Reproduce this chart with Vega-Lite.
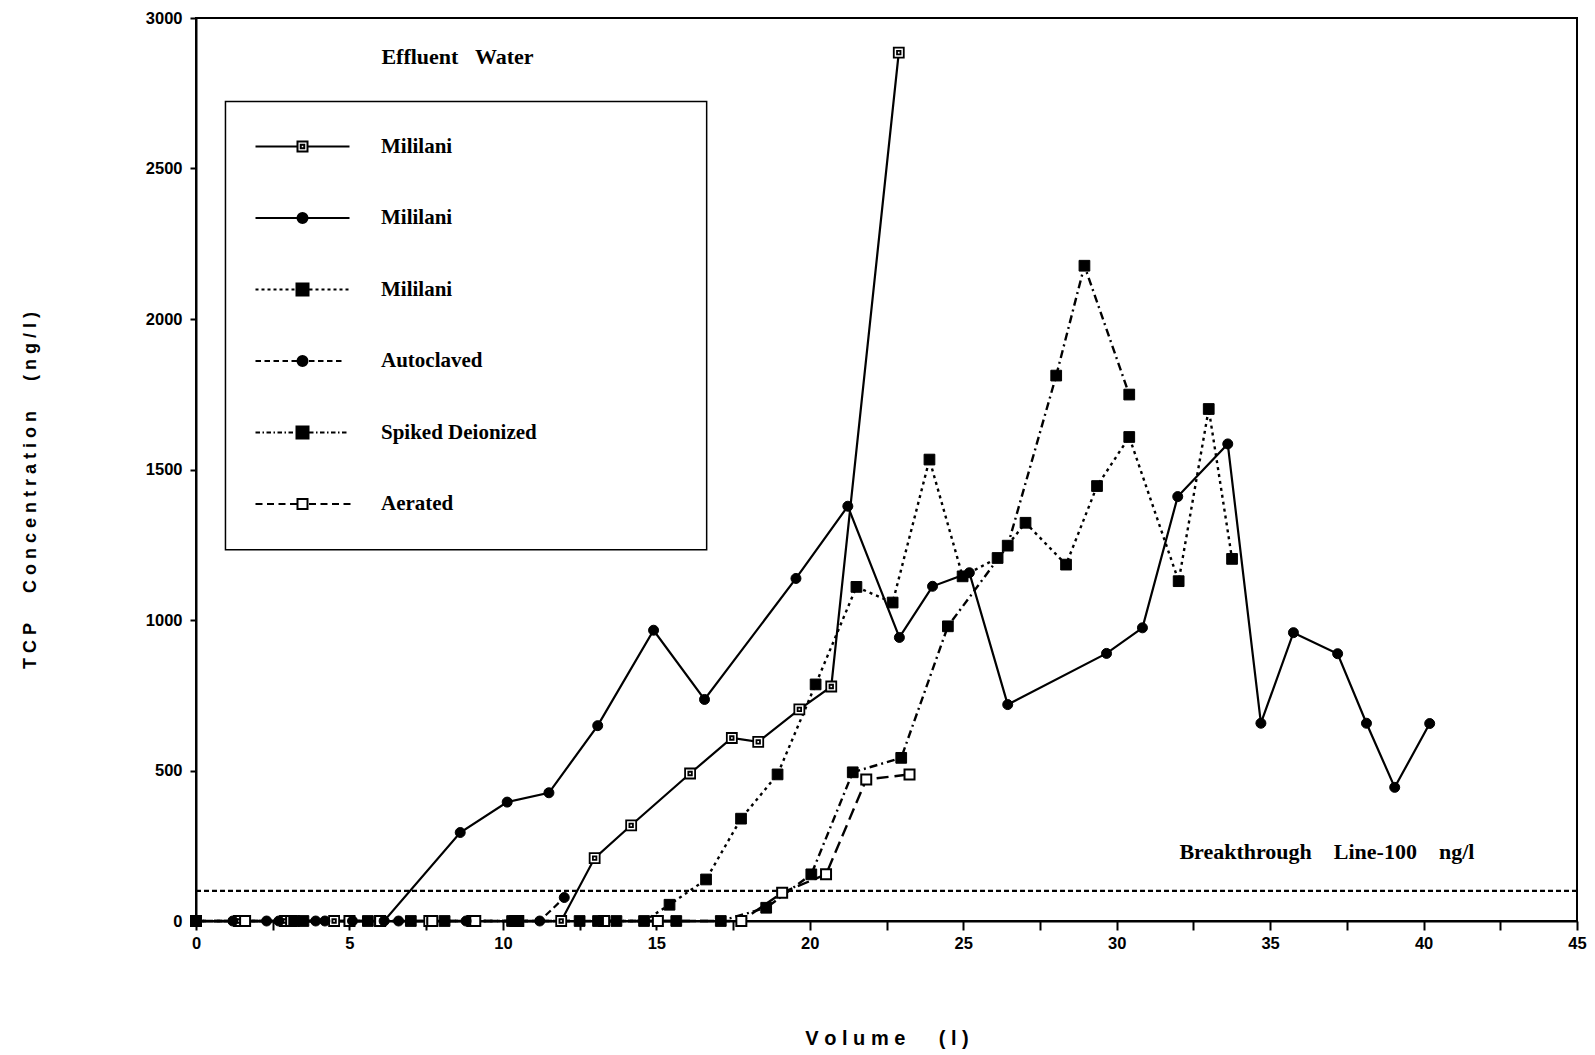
{
  "$schema": "https://vega.github.io/schema/vega-lite/v6.json",
  "width": 1381,
  "height": 903,
  "autosize": "none",
  "padding": {"left": 196, "top": 18, "right": 18, "bottom": 134},
  "background": "white",
  "config": {
    "view": {"stroke": "black", "strokeWidth": 2},
    "axis": {
      "domainColor": "black", "domainWidth": 2, "tickColor": "black", "tickWidth": 2,
      "labelColor": "black", "titleColor": "black", "grid": false,
      "labelFont": "Liberation Sans, sans-serif", "labelFontWeight": "bold", "labelFontSize": 16.5,
      "titleFont": "Liberation Sans, sans-serif", "titleFontWeight": "bold", "titleFontSize": 18
    },
    "legend": {
      "orient": "none", "legendX": 96, "legendY": 118, "padding": 0,
      "symbolSize": 100, "symbolStrokeWidth": 2, "symbolOffset": 0, "labelOffset": 68, "rowPadding": 49.5,
      "labelFont": "Liberation Serif, serif", "labelFontWeight": "bold", "labelFontSize": 21, "labelColor": "black",
      "labelLimit": 400
    }
  },
  "datasets": {
    "curves": [
      {"s": "m1", "v": 0, "c": 0}, {"s": "m1", "v": 1.4, "c": 0}, {"s": "m1", "v": 2.9, "c": 0}, {"s": "m1", "v": 4.5, "c": 0},
      {"s": "m1", "v": 6.0, "c": 0}, {"s": "m1", "v": 7.6, "c": 0}, {"s": "m1", "v": 9.0, "c": 0}, {"s": "m1", "v": 10.4, "c": 0},
      {"s": "m1", "v": 11.9, "c": 0}, {"s": "m1", "v": 12.99, "c": 209}, {"s": "m1", "v": 14.18, "c": 318}, {"s": "m1", "v": 16.1, "c": 490},
      {"s": "m1", "v": 17.46, "c": 608}, {"s": "m1", "v": 18.32, "c": 595}, {"s": "m1", "v": 19.66, "c": 703}, {"s": "m1", "v": 20.7, "c": 779},
      {"s": "m1", "v": 22.9, "c": 2885},

      {"s": "m2", "v": 0, "c": 0}, {"s": "m2", "v": 1.2, "c": 0}, {"s": "m2", "v": 2.7, "c": 0}, {"s": "m2", "v": 3.9, "c": 0},
      {"s": "m2", "v": 5.1, "c": 0}, {"s": "m2", "v": 6.13, "c": 0}, {"s": "m2", "v": 8.61, "c": 294}, {"s": "m2", "v": 10.14, "c": 395},
      {"s": "m2", "v": 11.5, "c": 426}, {"s": "m2", "v": 13.09, "c": 649}, {"s": "m2", "v": 14.91, "c": 966}, {"s": "m2", "v": 16.57, "c": 736},
      {"s": "m2", "v": 19.55, "c": 1138}, {"s": "m2", "v": 21.24, "c": 1378}, {"s": "m2", "v": 22.92, "c": 942}, {"s": "m2", "v": 24.0, "c": 1112},
      {"s": "m2", "v": 25.2, "c": 1157}, {"s": "m2", "v": 26.45, "c": 719}, {"s": "m2", "v": 29.67, "c": 889}, {"s": "m2", "v": 30.84, "c": 974},
      {"s": "m2", "v": 31.99, "c": 1410}, {"s": "m2", "v": 33.62, "c": 1585}, {"s": "m2", "v": 34.7, "c": 657}, {"s": "m2", "v": 35.76, "c": 958},
      {"s": "m2", "v": 37.2, "c": 888}, {"s": "m2", "v": 38.14, "c": 657}, {"s": "m2", "v": 39.06, "c": 444}, {"s": "m2", "v": 40.2, "c": 656},

      {"s": "m3", "v": 0, "c": 0}, {"s": "m3", "v": 3.2, "c": 0}, {"s": "m3", "v": 5.6, "c": 0}, {"s": "m3", "v": 8.1, "c": 0},
      {"s": "m3", "v": 10.3, "c": 0}, {"s": "m3", "v": 12.5, "c": 0}, {"s": "m3", "v": 13.7, "c": 0}, {"s": "m3", "v": 14.6, "c": 0},
      {"s": "m3", "v": 15.43, "c": 54}, {"s": "m3", "v": 16.62, "c": 138}, {"s": "m3", "v": 17.76, "c": 340}, {"s": "m3", "v": 18.95, "c": 487},
      {"s": "m3", "v": 20.19, "c": 786}, {"s": "m3", "v": 21.52, "c": 1110}, {"s": "m3", "v": 22.7, "c": 1058}, {"s": "m3", "v": 23.9, "c": 1533},
      {"s": "m3", "v": 24.98, "c": 1145}, {"s": "m3", "v": 26.12, "c": 1206}, {"s": "m3", "v": 27.03, "c": 1323}, {"s": "m3", "v": 28.35, "c": 1184},
      {"s": "m3", "v": 29.36, "c": 1445}, {"s": "m3", "v": 30.41, "c": 1608}, {"s": "m3", "v": 32.02, "c": 1129}, {"s": "m3", "v": 33.0, "c": 1701},
      {"s": "m3", "v": 33.76, "c": 1203},

      {"s": "au", "v": 0, "c": 0}, {"s": "au", "v": 2.3, "c": 0}, {"s": "au", "v": 4.2, "c": 0}, {"s": "au", "v": 6.6, "c": 0},
      {"s": "au", "v": 8.8, "c": 0}, {"s": "au", "v": 11.2, "c": 0}, {"s": "au", "v": 12.0, "c": 78},

      {"s": "sd", "v": 0, "c": 0}, {"s": "sd", "v": 3.5, "c": 0}, {"s": "sd", "v": 7.0, "c": 0}, {"s": "sd", "v": 10.5, "c": 0},
      {"s": "sd", "v": 13.1, "c": 0}, {"s": "sd", "v": 15.65, "c": 0}, {"s": "sd", "v": 17.1, "c": 0}, {"s": "sd", "v": 18.58, "c": 44},
      {"s": "sd", "v": 20.05, "c": 155}, {"s": "sd", "v": 21.4, "c": 494}, {"s": "sd", "v": 22.98, "c": 542}, {"s": "sd", "v": 24.5, "c": 979},
      {"s": "sd", "v": 26.45, "c": 1247}, {"s": "sd", "v": 28.03, "c": 1812}, {"s": "sd", "v": 28.95, "c": 2177}, {"s": "sd", "v": 30.41, "c": 1749},

      {"s": "ae", "v": 0, "c": 0}, {"s": "ae", "v": 1.6, "c": 0}, {"s": "ae", "v": 3.1, "c": 0}, {"s": "ae", "v": 5.0, "c": 0},
      {"s": "ae", "v": 6.0, "c": 0}, {"s": "ae", "v": 7.7, "c": 0}, {"s": "ae", "v": 9.1, "c": 0}, {"s": "ae", "v": 10.5, "c": 0},
      {"s": "ae", "v": 13.3, "c": 0}, {"s": "ae", "v": 15.05, "c": 0}, {"s": "ae", "v": 17.77, "c": 0}, {"s": "ae", "v": 19.1, "c": 94},
      {"s": "ae", "v": 20.53, "c": 155}, {"s": "ae", "v": 21.84, "c": 470}, {"s": "ae", "v": 23.25, "c": 487}
    ]
  },
  "layer": [
    {
      "data": {"values": [{}]},
      "mark": {"type": "rect", "fill": "white", "stroke": "black", "strokeWidth": 1.5},
      "encoding": {
        "x": {"datum": 0.96, "type": "quantitative", "title": "V\u00a0o\u00a0l\u00a0u\u00a0m\u00a0e\u00a0\u00a0\u00a0\u00a0\u00a0\u00a0(\u00a0l\u00a0)",
          "scale": {"domain": [0, 45], "nice": false, "zero": false},
          "axis": {"values": [0, 2.5, 5, 7.5, 10, 12.5, 15, 17.5, 20, 22.5, 25, 27.5, 30, 32.5, 35, 37.5, 40, 42.5, 45],
            "format": "d", "labelExpr": "datum.value % 5 === 0 ? datum.label : ''", "tickSize": 9, "labelPadding": 5,
            "labelFlush": false, "labelOverlap": false, "titleY": 117, "titleBaseline": "middle", "titleFontSize": 20}},
        "x2": {"datum": 16.64},
        "y": {"datum": 1233, "type": "quantitative", "title": "T\u00a0C\u00a0P\u00a0\u00a0\u00a0\u00a0\u00a0\u00a0C\u00a0o\u00a0n\u00a0c\u00a0e\u00a0n\u00a0t\u00a0r\u00a0a\u00a0t\u00a0i\u00a0o\u00a0n\u00a0\u00a0\u00a0\u00a0\u00a0\u00a0(\u00a0n\u00a0g\u00a0/\u00a0l\u00a0)",
          "scale": {"domain": [0, 3000], "nice": false, "zero": false},
          "axis": {"values": [0, 500, 1000, 1500, 2000, 2500, 3000], "format": "d", "tickSize": 6, "labelPadding": 8,
            "labelFlush": false, "labelOverlap": false, "titleX": -166, "titleY": 472, "titleAngle": -90,
            "titleAlign": "center", "titleBaseline": "middle"}},
        "y2": {"datum": 2723}
      }
    },
    {
      "data": {"values": [{}]},
      "mark": {"type": "rule", "strokeDash": [5, 3], "strokeWidth": 2.2, "color": "black"},
      "encoding": {
        "y": {"datum": 100, "type": "quantitative", "title": "T\u00a0C\u00a0P\u00a0\u00a0\u00a0\u00a0\u00a0\u00a0C\u00a0o\u00a0n\u00a0c\u00a0e\u00a0n\u00a0t\u00a0r\u00a0a\u00a0t\u00a0i\u00a0o\u00a0n\u00a0\u00a0\u00a0\u00a0\u00a0\u00a0(\u00a0n\u00a0g\u00a0/\u00a0l\u00a0)"}
      }
    },
    {
      "data": {"name": "curves"},
      "transform": [{"filter": "datum.s === 'm1' || datum.s === 'm2'"}],
      "mark": {"type": "line", "color": "black", "strokeWidth": 2.2},
      "encoding": {
        "x": {"field": "v", "type": "quantitative", "title": "V\u00a0o\u00a0l\u00a0u\u00a0m\u00a0e\u00a0\u00a0\u00a0\u00a0\u00a0\u00a0(\u00a0l\u00a0)"},
        "y": {"field": "c", "type": "quantitative", "title": "T\u00a0C\u00a0P\u00a0\u00a0\u00a0\u00a0\u00a0\u00a0C\u00a0o\u00a0n\u00a0c\u00a0e\u00a0n\u00a0t\u00a0r\u00a0a\u00a0t\u00a0i\u00a0o\u00a0n\u00a0\u00a0\u00a0\u00a0\u00a0\u00a0(\u00a0n\u00a0g\u00a0/\u00a0l\u00a0)"},
        "detail": {"field": "s", "type": "nominal"}
      }
    },
    {
      "data": {"name": "curves"},
      "transform": [{"filter": "datum.s === 'm3'"}],
      "mark": {"type": "line", "color": "black", "strokeWidth": 2.4, "strokeDash": [3, 4]},
      "encoding": {
        "x": {"field": "v", "type": "quantitative", "title": "V\u00a0o\u00a0l\u00a0u\u00a0m\u00a0e\u00a0\u00a0\u00a0\u00a0\u00a0\u00a0(\u00a0l\u00a0)"},
        "y": {"field": "c", "type": "quantitative", "title": "T\u00a0C\u00a0P\u00a0\u00a0\u00a0\u00a0\u00a0\u00a0C\u00a0o\u00a0n\u00a0c\u00a0e\u00a0n\u00a0t\u00a0r\u00a0a\u00a0t\u00a0i\u00a0o\u00a0n\u00a0\u00a0\u00a0\u00a0\u00a0\u00a0(\u00a0n\u00a0g\u00a0/\u00a0l\u00a0)"}
      }
    },
    {
      "data": {"name": "curves"},
      "transform": [{"filter": "datum.s === 'au'"}],
      "mark": {"type": "line", "color": "black", "strokeWidth": 2.2, "strokeDash": [7, 4]},
      "encoding": {
        "x": {"field": "v", "type": "quantitative", "title": "V\u00a0o\u00a0l\u00a0u\u00a0m\u00a0e\u00a0\u00a0\u00a0\u00a0\u00a0\u00a0(\u00a0l\u00a0)"},
        "y": {"field": "c", "type": "quantitative", "title": "T\u00a0C\u00a0P\u00a0\u00a0\u00a0\u00a0\u00a0\u00a0C\u00a0o\u00a0n\u00a0c\u00a0e\u00a0n\u00a0t\u00a0r\u00a0a\u00a0t\u00a0i\u00a0o\u00a0n\u00a0\u00a0\u00a0\u00a0\u00a0\u00a0(\u00a0n\u00a0g\u00a0/\u00a0l\u00a0)"}
      }
    },
    {
      "data": {"name": "curves"},
      "transform": [{"filter": "datum.s === 'sd'"}],
      "mark": {"type": "line", "color": "black", "strokeWidth": 2.4, "strokeDash": [8, 4, 2, 4]},
      "encoding": {
        "x": {"field": "v", "type": "quantitative", "title": "V\u00a0o\u00a0l\u00a0u\u00a0m\u00a0e\u00a0\u00a0\u00a0\u00a0\u00a0\u00a0(\u00a0l\u00a0)"},
        "y": {"field": "c", "type": "quantitative", "title": "T\u00a0C\u00a0P\u00a0\u00a0\u00a0\u00a0\u00a0\u00a0C\u00a0o\u00a0n\u00a0c\u00a0e\u00a0n\u00a0t\u00a0r\u00a0a\u00a0t\u00a0i\u00a0o\u00a0n\u00a0\u00a0\u00a0\u00a0\u00a0\u00a0(\u00a0n\u00a0g\u00a0/\u00a0l\u00a0)"}
      }
    },
    {
      "data": {"name": "curves"},
      "transform": [{"filter": "datum.s === 'ae'"}],
      "mark": {"type": "line", "color": "black", "strokeWidth": 2.4, "strokeDash": [12, 6]},
      "encoding": {
        "x": {"field": "v", "type": "quantitative", "title": "V\u00a0o\u00a0l\u00a0u\u00a0m\u00a0e\u00a0\u00a0\u00a0\u00a0\u00a0\u00a0(\u00a0l\u00a0)"},
        "y": {"field": "c", "type": "quantitative", "title": "T\u00a0C\u00a0P\u00a0\u00a0\u00a0\u00a0\u00a0\u00a0C\u00a0o\u00a0n\u00a0c\u00a0e\u00a0n\u00a0t\u00a0r\u00a0a\u00a0t\u00a0i\u00a0o\u00a0n\u00a0\u00a0\u00a0\u00a0\u00a0\u00a0(\u00a0n\u00a0g\u00a0/\u00a0l\u00a0)"}
      }
    },
    {
      "data": {"name": "curves"},
      "transform": [{"filter": "datum.s === 'm1'"}],
      "mark": {"type": "point", "shape": "M-1,-1H1V1H-1ZM-0.35,-0.35H0.35V0.35H-0.35Z", "filled": true, "fill": "white", "stroke": "black", "strokeWidth": 1.8, "opacity": 1, "size": 100},
      "encoding": {
        "x": {"field": "v", "type": "quantitative", "title": "V\u00a0o\u00a0l\u00a0u\u00a0m\u00a0e\u00a0\u00a0\u00a0\u00a0\u00a0\u00a0(\u00a0l\u00a0)"},
        "y": {"field": "c", "type": "quantitative", "title": "T\u00a0C\u00a0P\u00a0\u00a0\u00a0\u00a0\u00a0\u00a0C\u00a0o\u00a0n\u00a0c\u00a0e\u00a0n\u00a0t\u00a0r\u00a0a\u00a0t\u00a0i\u00a0o\u00a0n\u00a0\u00a0\u00a0\u00a0\u00a0\u00a0(\u00a0n\u00a0g\u00a0/\u00a0l\u00a0)"}
      }
    },
    {
      "data": {"name": "curves"},
      "transform": [{"filter": "datum.s === 'ae'"}],
      "mark": {"type": "point", "shape": "square", "filled": true, "fill": "white", "stroke": "black", "strokeWidth": 2, "opacity": 1, "size": 100},
      "encoding": {
        "x": {"field": "v", "type": "quantitative", "title": "V\u00a0o\u00a0l\u00a0u\u00a0m\u00a0e\u00a0\u00a0\u00a0\u00a0\u00a0\u00a0(\u00a0l\u00a0)"},
        "y": {"field": "c", "type": "quantitative", "title": "T\u00a0C\u00a0P\u00a0\u00a0\u00a0\u00a0\u00a0\u00a0C\u00a0o\u00a0n\u00a0c\u00a0e\u00a0n\u00a0t\u00a0r\u00a0a\u00a0t\u00a0i\u00a0o\u00a0n\u00a0\u00a0\u00a0\u00a0\u00a0\u00a0(\u00a0n\u00a0g\u00a0/\u00a0l\u00a0)"}
      }
    },
    {
      "data": {"name": "curves"},
      "transform": [{"filter": "datum.s === 'm2' || datum.s === 'au'"}],
      "mark": {"type": "point", "shape": "circle", "filled": true, "fill": "black", "stroke": "black", "strokeWidth": 1, "opacity": 1, "size": 100},
      "encoding": {
        "x": {"field": "v", "type": "quantitative", "title": "V\u00a0o\u00a0l\u00a0u\u00a0m\u00a0e\u00a0\u00a0\u00a0\u00a0\u00a0\u00a0(\u00a0l\u00a0)"},
        "y": {"field": "c", "type": "quantitative", "title": "T\u00a0C\u00a0P\u00a0\u00a0\u00a0\u00a0\u00a0\u00a0C\u00a0o\u00a0n\u00a0c\u00a0e\u00a0n\u00a0t\u00a0r\u00a0a\u00a0t\u00a0i\u00a0o\u00a0n\u00a0\u00a0\u00a0\u00a0\u00a0\u00a0(\u00a0n\u00a0g\u00a0/\u00a0l\u00a0)"}
      }
    },
    {
      "data": {"name": "curves"},
      "transform": [{"filter": "datum.s === 'm3' || datum.s === 'sd'"}],
      "mark": {"type": "point", "shape": "square", "filled": true, "fill": "black", "stroke": "black", "strokeWidth": 1, "opacity": 1, "size": 115},
      "encoding": {
        "x": {"field": "v", "type": "quantitative", "title": "V\u00a0o\u00a0l\u00a0u\u00a0m\u00a0e\u00a0\u00a0\u00a0\u00a0\u00a0\u00a0(\u00a0l\u00a0)"},
        "y": {"field": "c", "type": "quantitative", "title": "T\u00a0C\u00a0P\u00a0\u00a0\u00a0\u00a0\u00a0\u00a0C\u00a0o\u00a0n\u00a0c\u00a0e\u00a0n\u00a0t\u00a0r\u00a0a\u00a0t\u00a0i\u00a0o\u00a0n\u00a0\u00a0\u00a0\u00a0\u00a0\u00a0(\u00a0n\u00a0g\u00a0/\u00a0l\u00a0)"}
      }
    },
    {
      "data": {"name": "curves"},
      "transform": [{"filter": "datum.v < 0"}],
      "mark": {"type": "point", "filled": true, "stroke": "black", "strokeWidth": 2, "opacity": 1, "size": 100},
      "encoding": {
        "x": {"field": "v", "type": "quantitative", "title": "V\u00a0o\u00a0l\u00a0u\u00a0m\u00a0e\u00a0\u00a0\u00a0\u00a0\u00a0\u00a0(\u00a0l\u00a0)"},
        "y": {"field": "c", "type": "quantitative", "title": "T\u00a0C\u00a0P\u00a0\u00a0\u00a0\u00a0\u00a0\u00a0C\u00a0o\u00a0n\u00a0c\u00a0e\u00a0n\u00a0t\u00a0r\u00a0a\u00a0t\u00a0i\u00a0o\u00a0n\u00a0\u00a0\u00a0\u00a0\u00a0\u00a0(\u00a0n\u00a0g\u00a0/\u00a0l\u00a0)"},
        "shape": {"field": "s", "type": "nominal", "title": null,
          "scale": {"domain": ["m1", "m2", "m3", "au", "sd", "ae"],
            "range": [
              "M-9.4,0H-1M1,0H9.4M-1,-1H1V1H-1ZM-0.35,-0.35H0.35V0.35H-0.35Z",
              "M-9.4,0H-1M1,0H9.4M-1,0A1,1,0,1,1,1,0A1,1,0,1,1,-1,0Z",
              "M-9.4,0h0.6m0.6,0h0.6m0.6,0h0.6m0.6,0h0.6m0.6,0h0.6m0.6,0h0.6m0.6,0h0.6M1.4,0h0.6m0.6,0h0.6m0.6,0h0.6m0.6,0h0.6m0.6,0h0.6m0.6,0h0.6m0.6,0h0.6M-1.2,-1.2H1.2V1.2H-1.2Z",
              "M-9.4,0h1.1m0.7,0h1.1m0.7,0h1.1m0.7,0h1.1m0.7,0h1.1M1.3,0h1.1m0.7,0h1.1m0.7,0h1.1m0.7,0h1.1M-1,0A1,1,0,1,1,1,0A1,1,0,1,1,-1,0Z",
              "M-9.4,0h0.9m0.5,0h0.3m0.5,0h0.9m0.5,0h0.3m0.5,0h0.9m0.5,0h0.3m0.5,0h0.9m0.5,0h0.3M1.3,0h0.9m0.5,0h0.3m0.5,0h0.9m0.5,0h0.3m0.5,0h0.9m0.5,0h0.3m0.5,0h0.9M-1.2,-1.2H1.2V1.2H-1.2Z",
              "M-9.4,0h1.4m0.9,0h1.4m0.9,0h1.4m0.9,0h1.4M1.3,0h1.4m0.9,0h1.4m0.9,0h1.4m0.9,0h1.4M-1,-1H1V1H-1Z"
            ]},
          "legend": {
            "title": null,
            "labelExpr": "({'m1': 'Mililani', 'm2': 'Mililani', 'm3': 'Mililani', 'au': 'Autoclaved', 'sd': 'Spiked Deionized', 'ae': 'Aerated'})[datum.value]"
          }
        },
        "fill": {"field": "s", "type": "nominal", "title": null,
          "scale": {"domain": ["m1", "m2", "m3", "au", "sd", "ae"],
            "range": ["white", "black", "black", "black", "black", "white"]},
          "legend": {
            "title": null,
            "labelExpr": "({'m1': 'Mililani', 'm2': 'Mililani', 'm3': 'Mililani', 'au': 'Autoclaved', 'sd': 'Spiked Deionized', 'ae': 'Aerated'})[datum.value]"
          }
        }
      }
    },
    {
      "data": {"values": [{}]},
      "mark": {"type": "text", "font": "Liberation Serif, serif", "fontWeight": "bold", "fontSize": 22, "color": "black", "align": "center", "baseline": "middle"},
      "encoding": {
        "x": {"datum": 8.52, "type": "quantitative", "title": "V\u00a0o\u00a0l\u00a0u\u00a0m\u00a0e\u00a0\u00a0\u00a0\u00a0\u00a0\u00a0(\u00a0l\u00a0)"},
        "y": {"datum": 2871, "type": "quantitative", "title": "T\u00a0C\u00a0P\u00a0\u00a0\u00a0\u00a0\u00a0\u00a0C\u00a0o\u00a0n\u00a0c\u00a0e\u00a0n\u00a0t\u00a0r\u00a0a\u00a0t\u00a0i\u00a0o\u00a0n\u00a0\u00a0\u00a0\u00a0\u00a0\u00a0(\u00a0n\u00a0g\u00a0/\u00a0l\u00a0)"},
        "text": {"value": "Effluent\u00a0\u00a0\u00a0Water"}
      }
    },
    {
      "data": {"values": [{}]},
      "mark": {"type": "text", "font": "Liberation Serif, serif", "fontWeight": "bold", "fontSize": 22, "color": "black", "align": "center", "baseline": "middle"},
      "encoding": {
        "x": {"datum": 36.85, "type": "quantitative", "title": "V\u00a0o\u00a0l\u00a0u\u00a0m\u00a0e\u00a0\u00a0\u00a0\u00a0\u00a0\u00a0(\u00a0l\u00a0)"},
        "y": {"datum": 230, "type": "quantitative", "title": "T\u00a0C\u00a0P\u00a0\u00a0\u00a0\u00a0\u00a0\u00a0C\u00a0o\u00a0n\u00a0c\u00a0e\u00a0n\u00a0t\u00a0r\u00a0a\u00a0t\u00a0i\u00a0o\u00a0n\u00a0\u00a0\u00a0\u00a0\u00a0\u00a0(\u00a0n\u00a0g\u00a0/\u00a0l\u00a0)"},
        "text": {"value": "Breakthrough\u00a0\u00a0\u00a0\u00a0Line-100\u00a0\u00a0\u00a0\u00a0ng/l"}
      }
    }
  ]
}
